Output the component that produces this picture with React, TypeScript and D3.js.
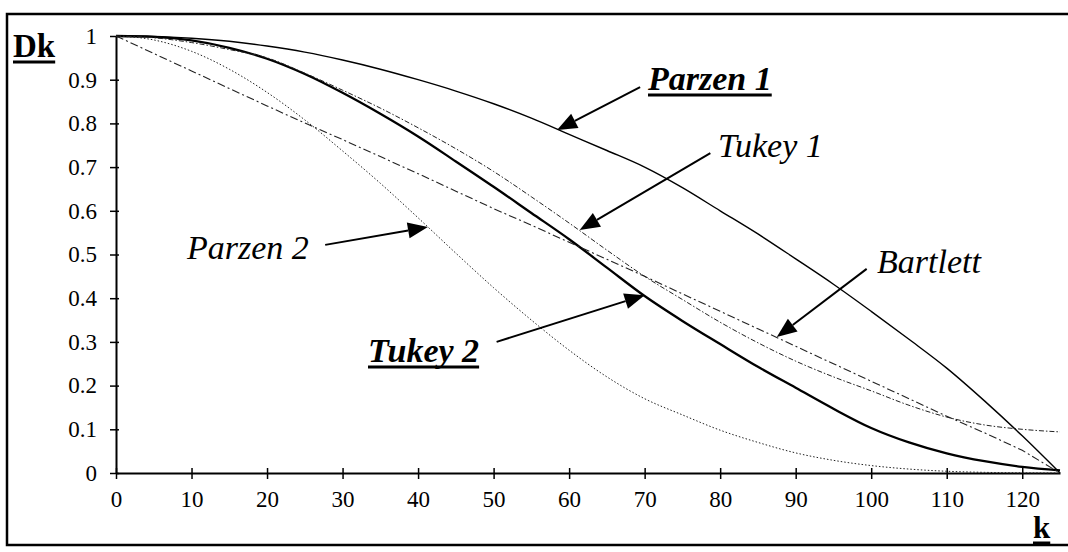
import React, { useEffect, useRef } from "react";
import * as d3 from "d3";

// lag k and window values
const kValues = [0, 5, 10, 15, 20, 25, 30, 35, 40, 45, 50, 55, 60, 65, 70, 75, 80, 85, 90, 95, 100, 105, 110, 115, 120, 125];
const parzen1 = [1, 0.999, 0.995, 0.988, 0.977, 0.963, 0.945, 0.924, 0.9, 0.874, 0.845, 0.812, 0.775, 0.738, 0.7, 0.653, 0.6, 0.547, 0.49, 0.432, 0.37, 0.306, 0.24, 0.165, 0.085, 0];
const tukey1 = [1, 0.996, 0.985, 0.969, 0.95, 0.915, 0.876, 0.835, 0.79, 0.742, 0.69, 0.632, 0.572, 0.51, 0.45, 0.397, 0.345, 0.298, 0.256, 0.22, 0.188, 0.155, 0.128, 0.11, 0.1, 0.094];
const tukey2 = [1, 0.998, 0.99, 0.973, 0.948, 0.913, 0.87, 0.822, 0.77, 0.713, 0.655, 0.595, 0.535, 0.47, 0.405, 0.348, 0.295, 0.243, 0.195, 0.147, 0.103, 0.07, 0.045, 0.027, 0.014, 0.006];
const parzen2 = [1, 0.991, 0.965, 0.924, 0.871, 0.808, 0.737, 0.663, 0.584, 0.503, 0.424, 0.35, 0.281, 0.22, 0.17, 0.133, 0.098, 0.07, 0.046, 0.029, 0.017, 0.009, 0.004, 0.0015, 0.0003, 0];
const bartlett = [1, 0.96, 0.92, 0.88, 0.84, 0.801, 0.763, 0.724, 0.685, 0.645, 0.605, 0.567, 0.528, 0.489, 0.45, 0.41, 0.37, 0.33, 0.29, 0.25, 0.21, 0.17, 0.13, 0.092, 0.052, 0];

const xTicks = [0, 10, 20, 30, 40, 50, 60, 70, 80, 90, 100, 110, 120];
const yTicks = [0, 0.1, 0.2, 0.3, 0.4, 0.5, 0.6, 0.7, 0.8, 0.9, 1];

const WIDTH = 1068;
const HEIGHT = 552;
const FONT = '"Liberation Serif", "Times New Roman", Times, "DejaVu Serif", "Noto Serif", FreeSerif, serif';

const App: React.FC = () => {
  const svgRef = useRef<SVGSVGElement | null>(null);

  useEffect(() => {
    if (!svgRef.current) return;
    const svg = d3.select(svgRef.current);
    svg.selectAll("*").remove();

    const x = d3.scaleLinear().domain([0, 125]).range([116, 1060]);
    const y = d3.scaleLinear().domain([0, 1]).range([473, 36]);

    // outer frame (right side runs off the picture)
    svg
      .append("rect")
      .attr("x", 7)
      .attr("y", 14)
      .attr("width", 1090)
      .attr("height", 531)
      .attr("fill", "none")
      .attr("stroke", "#000")
      .attr("stroke-width", 2.5);

    // axes
    const yAxis = d3
      .axisLeft(y)
      .tickValues(yTicks)
      .tickSizeInner(6)
      .tickSizeOuter(0)
      .tickPadding(13)
      .tickFormat((d) => {
        const v = +d;
        return v === 0 ? "0" : v === 1 ? "1" : d3.format(".1f")(v);
      });
    const gy = svg.append("g").attr("transform", "translate(116,0)").call(yAxis);
    gy.attr("font-family", FONT);
    gy.select(".domain").attr("stroke-width", 2);
    gy.selectAll(".tick line").attr("x1", 3).attr("stroke-width", 1.5);
    gy.selectAll("text").attr("font-family", FONT).attr("font-size", 23).attr("fill", "#000");

    const xAxis = d3
      .axisBottom(x)
      .tickValues(xTicks)
      .tickSizeInner(6)
      .tickSizeOuter(0)
      .tickPadding(12)
      .tickFormat((d) => String(d));
    const gx = svg.append("g").attr("transform", "translate(0,473)").call(xAxis);
    gx.attr("font-family", FONT);
    gx.select(".domain").attr("stroke-width", 2.2);
    gx.selectAll(".tick line").attr("y1", -5).attr("stroke-width", 1.5);
    gx.selectAll("text").attr("font-family", FONT).attr("font-size", 23).attr("fill", "#000");

    // curves
    const series = [
      { values: parzen1, width: 1.4, dash: null as string | null, curve: d3.curveMonotoneX, color: "#000" },
      { values: tukey2, width: 2.3, dash: null, curve: d3.curveMonotoneX, color: "#000" },
      { values: tukey1, width: 1, dash: "5,2,1.5,2", curve: d3.curveMonotoneX, color: "#222" },
      { values: bartlett, width: 1.1, dash: "8,3,2,3", curve: d3.curveLinear, color: "#222" },
      { values: parzen2, width: 1, dash: "1.5,2", curve: d3.curveMonotoneX, color: "#222" },
    ];

    series.forEach((s) => {
      const line = d3
        .line<number>()
        .x((_, i) => x(kValues[i]))
        .y((d) => y(d))
        .curve(s.curve);
      svg
        .append("path")
        .datum(s.values)
        .attr("d", line)
        .attr("fill", "none")
        .attr("stroke", s.color)
        .attr("stroke-width", s.width)
        .attr("stroke-dasharray", s.dash);
    });

    // annotation arrows, [k, value] from -> to
    const arrows: [number, number, number, number][] = [
      [69.4, 0.883, 58.4, 0.785],
      [78.7, 0.732, 61.4, 0.556],
      [27.7, 0.522, 41.3, 0.563],
      [50.4, 0.3, 70.0, 0.407],
      [99.4, 0.467, 87.5, 0.311],
    ];
    arrows.forEach(([k1, v1, k2, v2]) => {
      const x1 = x(k1), y1 = y(v1), x2 = x(k2), y2 = y(v2);
      const len = Math.hypot(x2 - x1, y2 - y1);
      const ux = (x2 - x1) / len, uy = (y2 - y1) / len;
      const hl = 20, hw = 8;
      const bx = x2 - ux * hl, by = y2 - uy * hl;
      svg
        .append("line")
        .attr("x1", x1)
        .attr("y1", y1)
        .attr("x2", bx)
        .attr("y2", by)
        .attr("stroke", "#000")
        .attr("stroke-width", 2);
      svg
        .append("path")
        .attr("d", `M${x2},${y2}L${bx - uy * hw},${by + ux * hw}L${bx + uy * hw},${by - ux * hw}Z`)
        .attr("fill", "#000");
    });

    // text labels
    const labels = [
      { text: "Parzen 1", x: 648, y: 90, weight: "bold", style: "italic", size: 34, underline: true },
      { text: "Tukey 1", x: 718, y: 157, weight: "normal", style: "italic", size: 34, underline: false },
      { text: "Parzen 2", x: 187, y: 259, weight: "normal", style: "italic", size: 34, underline: false },
      { text: "Tukey 2", x: 368, y: 362, weight: "bold", style: "italic", size: 34, underline: true },
      { text: "Bartlett", x: 877, y: 273, weight: "normal", style: "italic", size: 34, underline: false },
      { text: "Dk", x: 13, y: 57, weight: "bold", style: "normal", size: 33, underline: true },
      { text: "k", x: 1033, y: 538, weight: "bold", style: "normal", size: 31, underline: true },
    ];
    labels.forEach((l) => {
      const t = svg
        .append("text")
        .attr("x", l.x)
        .attr("y", l.y)
        .attr("font-family", FONT)
        .attr("font-size", l.size)
        .attr("font-weight", l.weight)
        .attr("font-style", l.style)
        .attr("fill", "#000")
        .text(l.text);
      if (l.underline) {
        const w = (t.node() as SVGTextElement).getComputedTextLength();
        svg
          .append("line")
          .attr("x1", l.x)
          .attr("x2", l.x + w)
          .attr("y1", l.y + 5)
          .attr("y2", l.y + 5)
          .attr("stroke", "#000")
          .attr("stroke-width", 3);
      }
    });
  }, []);

  return (
    <div style={{ position: "absolute", left: 0, top: 0 }}>
      <svg ref={svgRef} width={WIDTH} height={HEIGHT} style={{ display: "block", background: "#fff" }} />
    </div>
  );
};

export default App;
